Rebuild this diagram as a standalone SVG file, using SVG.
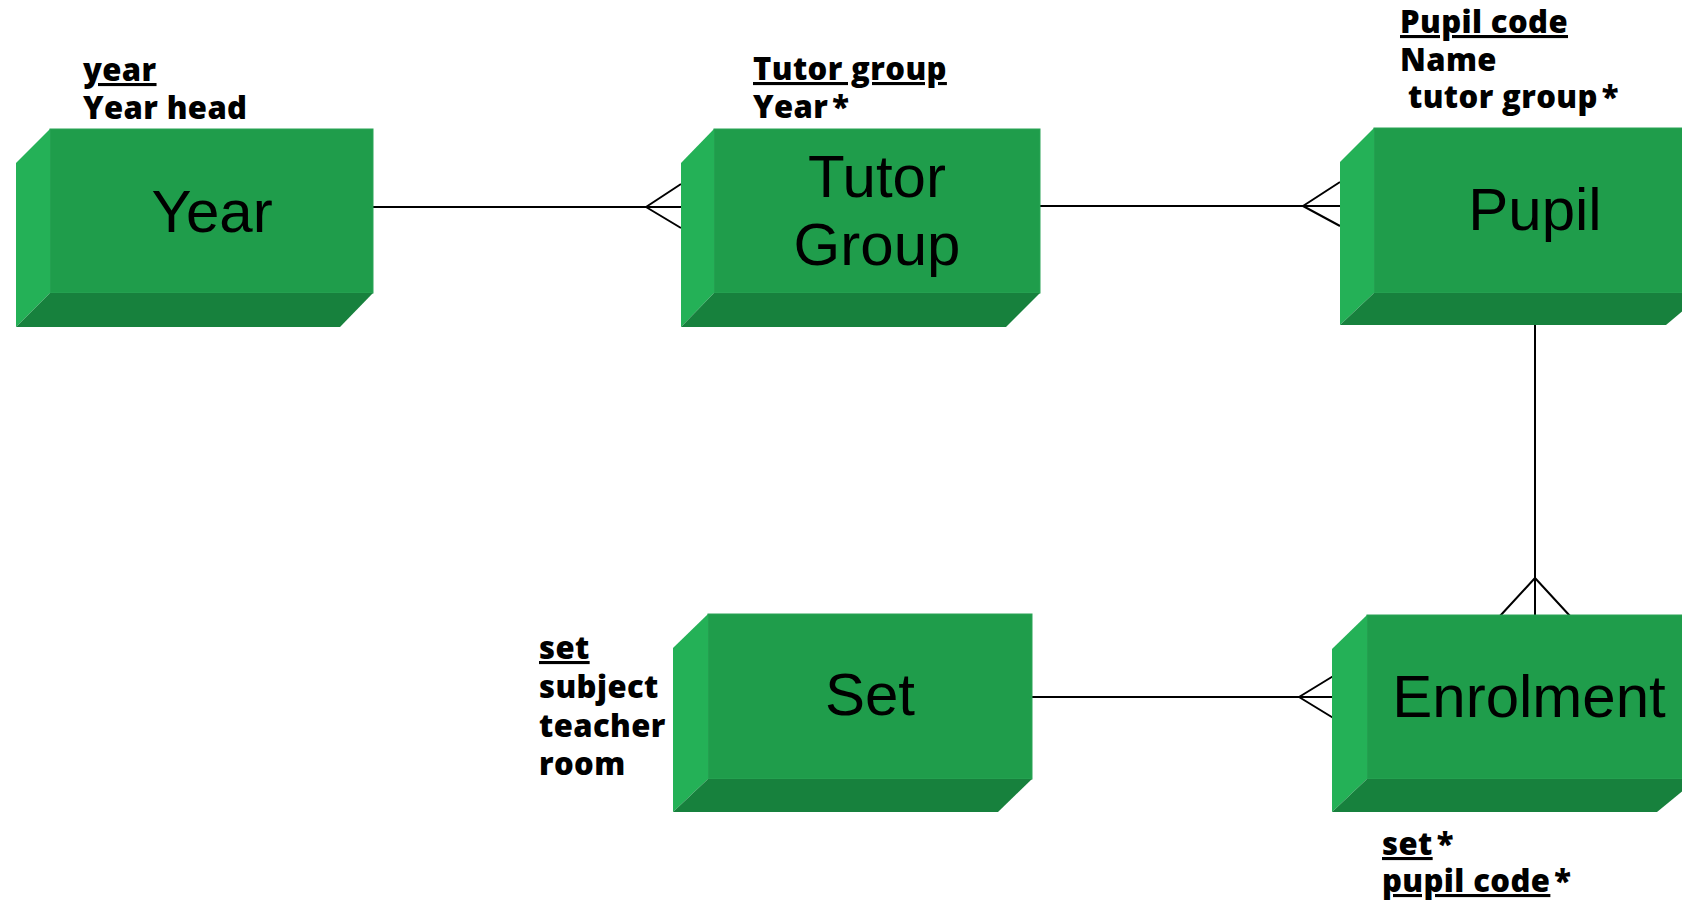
<svg xmlns="http://www.w3.org/2000/svg" width="1682" height="903" viewBox="0 0 1682 903">
<style>
.front{fill:#1f9d4b;stroke:#2aa456;stroke-width:1}
.side{fill:#24b157}
.bottom{fill:#17813d}
.title{font-family:"Liberation Sans",Arial,sans-serif;font-size:60px;fill:#000;text-anchor:middle}
.attr{font-family:"Open Sans","Noto Sans",sans-serif;font-weight:800;font-size:31px;letter-spacing:0.4px;fill:#000}
.u{text-decoration:underline}
.conn{stroke:#000;stroke-width:2;fill:none}
</style>
<rect width="1682" height="903" fill="#fff"/>
<g id="connectors">
<path class="conn" d="M373,207 H681 M646,207 L681,184 M646,207 L681,228"/>
<path class="conn" d="M1040,206 H1340 M1303,206 L1340,182 M1303,206 L1340,226"/>
<path class="conn" d="M1535,325 V615 M1535,578 L1500,616 M1535,578 L1570,616"/>
<path class="conn" d="M1032,697 H1332 M1299,697 L1335,675 M1299,697 L1335,719"/>
</g>
<g id="year">
<rect class="front" x="50" y="129" width="323" height="164"/>
<polygon class="side" points="16,163 50,129 50,293 16,327"/>
<polygon class="bottom" points="16,327 50,293 373,293 340,327"/>
<text class="title" x="212" y="232">Year</text>
<text class="attr" x="83" y="81"><tspan class="u">year</tspan></text>
<text class="attr" x="83" y="119">Year head</text>
</g>
<g id="tutor-group">
<rect class="front" x="714" y="129" width="326" height="164"/>
<polygon class="side" points="681,163 714,129 714,293 681,327"/>
<polygon class="bottom" points="681,327 714,293 1040,293 1006,327"/>
<text class="title" x="877" y="197">Tutor</text>
<text class="title" x="877" y="265">Group</text>
<text class="attr" x="753" y="80"><tspan class="u">Tutor group</tspan></text>
<text class="attr" x="753" y="118">Year<tspan dx="4">*</tspan></text>
</g>
<g id="pupil">
<rect class="front" x="1374" y="128" width="330" height="165"/>
<polygon class="side" points="1340,162 1374,128 1374,293 1340,325"/>
<polygon class="bottom" points="1340,325 1374,293 1704,293 1666,325"/>
<text class="title" x="1535" y="230">Pupil</text>
<text class="attr" x="1400" y="33"><tspan class="u">Pupil code</tspan></text>
<text class="attr" x="1400" y="71">Name</text>
<text class="attr" x="1408" y="108">tutor group<tspan dx="4">*</tspan></text>
</g>
<g id="set">
<rect class="front" x="708" y="614" width="324" height="165"/>
<polygon class="side" points="673,648 708,614 708,779 673,812"/>
<polygon class="bottom" points="673,812 708,779 1032,779 998,812"/>
<text class="title" x="870" y="715">Set</text>
<text class="attr" x="539" y="659"><tspan class="u">set</tspan></text>
<text class="attr" x="539" y="698">subject</text>
<text class="attr" x="539" y="737">teacher</text>
<text class="attr" x="539" y="775">room</text>
</g>
<g id="enrolment">
<rect class="front" x="1367" y="615" width="330" height="164"/>
<polygon class="side" points="1332,649 1367,615 1367,779 1332,812"/>
<polygon class="bottom" points="1332,812 1367,779 1697,779 1657,812"/>
<text class="title" x="1529" y="717">Enrolment</text>
<text class="attr" x="1382" y="855"><tspan class="u">set</tspan><tspan dx="4">*</tspan></text>
<text class="attr" x="1382" y="892"><tspan class="u">pupil code</tspan><tspan dx="4">*</tspan></text>
</g>
</svg>
